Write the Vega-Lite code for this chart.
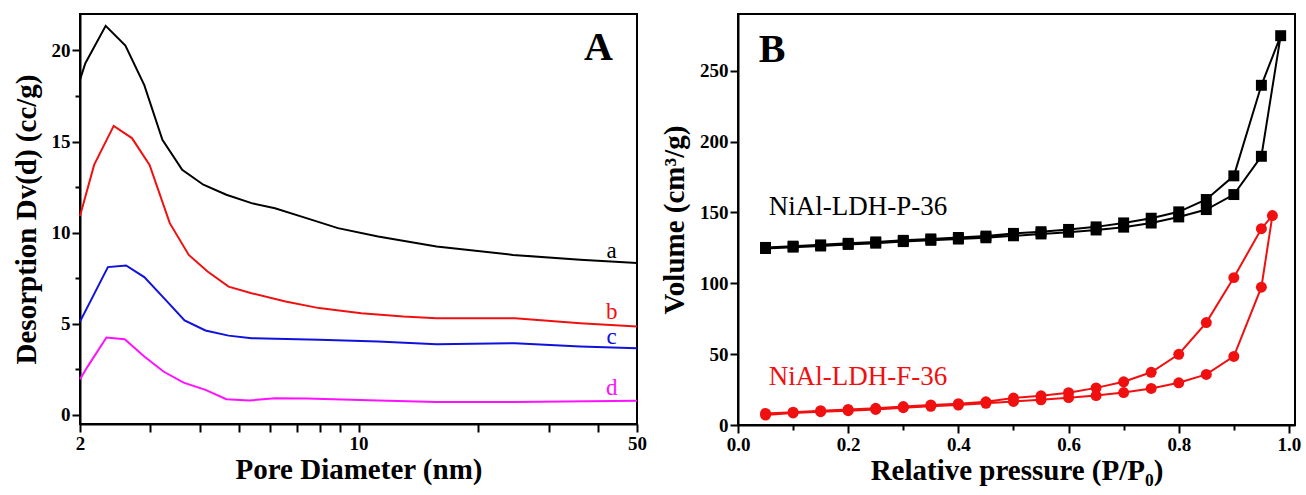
{
  "$schema": "https://vega.github.io/schema/vega-lite/v6.json",
  "padding": {"left": 11, "top": 13, "right": 5, "bottom": 5},
  "spacing": 101,
  "bounds": "flush",
  "config": {
    "view": {"stroke": "black", "strokeWidth": 2},
    "axis": {"domainColor": "black", "domainWidth": 2, "tickColor": "black", "tickWidth": 2, "tickSize": 8,
      "labelFont": "Liberation Serif", "labelFontWeight": "bold", "labelFontSize": 19, "labelColor": "black",
      "titleFont": "Liberation Serif", "titleFontWeight": "bold", "titleFontSize": 29, "titleColor": "black",
      "grid": false, "labelPadding": 2, "labelFlush": false, "labelOverlap": false},
    "text": {"font": "Liberation Serif"}
  },
  "datasets": {
    "pore": [
      {"s": "a", "d": 2.0, "v": 18.39}, {"s": "a", "d": 2.063, "v": 19.3}, {"s": "a", "d": 2.32, "v": 21.35}, {"s": "a", "d": 2.6, "v": 20.27}, {"s": "a", "d": 2.9, "v": 18.1}, {"s": "a", "d": 3.22, "v": 15.1}, {"s": "a", "d": 3.61, "v": 13.45}, {"s": "a", "d": 4.08, "v": 12.63}, {"s": "a", "d": 4.66, "v": 12.08}, {"s": "a", "d": 5.39, "v": 11.62}, {"s": "a", "d": 6.17, "v": 11.34}, {"s": "a", "d": 7.4, "v": 10.8}, {"s": "a", "d": 8.88, "v": 10.25}, {"s": "a", "d": 11.2, "v": 9.79}, {"s": "a", "d": 15.7, "v": 9.24}, {"s": "a", "d": 24.4, "v": 8.78}, {"s": "a", "d": 36.0, "v": 8.51}, {"s": "a", "d": 50.0, "v": 8.33},
      {"s": "b", "d": 2.0, "v": 10.92}, {"s": "b", "d": 2.17, "v": 13.72}, {"s": "b", "d": 2.43, "v": 15.86}, {"s": "b", "d": 2.7, "v": 15.19}, {"s": "b", "d": 2.99, "v": 13.72}, {"s": "b", "d": 3.36, "v": 10.52}, {"s": "b", "d": 3.75, "v": 8.78}, {"s": "b", "d": 4.18, "v": 7.87}, {"s": "b", "d": 4.72, "v": 7.04}, {"s": "b", "d": 5.39, "v": 6.68}, {"s": "b", "d": 6.56, "v": 6.22}, {"s": "b", "d": 7.96, "v": 5.86}, {"s": "b", "d": 10.16, "v": 5.58}, {"s": "b", "d": 12.96, "v": 5.4}, {"s": "b", "d": 15.7, "v": 5.31}, {"s": "b", "d": 19.6, "v": 5.31}, {"s": "b", "d": 24.7, "v": 5.31}, {"s": "b", "d": 36.0, "v": 5.03}, {"s": "b", "d": 50.0, "v": 4.85},
      {"s": "c", "d": 2.0, "v": 5.12}, {"s": "c", "d": 2.35, "v": 8.11}, {"s": "c", "d": 2.61, "v": 8.2}, {"s": "c", "d": 2.9, "v": 7.56}, {"s": "c", "d": 3.28, "v": 6.31}, {"s": "c", "d": 3.66, "v": 5.18}, {"s": "c", "d": 4.13, "v": 4.63}, {"s": "c", "d": 4.72, "v": 4.35}, {"s": "c", "d": 5.39, "v": 4.21}, {"s": "c", "d": 7.96, "v": 4.12}, {"s": "c", "d": 11.2, "v": 4.03}, {"s": "c", "d": 15.7, "v": 3.88}, {"s": "c", "d": 24.7, "v": 3.93}, {"s": "c", "d": 36.0, "v": 3.75}, {"s": "c", "d": 50.0, "v": 3.66},
      {"s": "d", "d": 2.0, "v": 1.96}, {"s": "d", "d": 2.09, "v": 2.65}, {"s": "d", "d": 2.33, "v": 4.25}, {"s": "d", "d": 2.59, "v": 4.15}, {"s": "d", "d": 2.9, "v": 3.2}, {"s": "d", "d": 3.24, "v": 2.38}, {"s": "d", "d": 3.64, "v": 1.77}, {"s": "d", "d": 4.13, "v": 1.37}, {"s": "d", "d": 4.66, "v": 0.86}, {"s": "d", "d": 5.33, "v": 0.79}, {"s": "d", "d": 6.17, "v": 0.91}, {"s": "d", "d": 7.4, "v": 0.9}, {"s": "d", "d": 11.2, "v": 0.79}, {"s": "d", "d": 15.7, "v": 0.71}, {"s": "d", "d": 24.7, "v": 0.71}, {"s": "d", "d": 50.0, "v": 0.77}
    ],
    "poreLabels": [
      {"s": "a", "d": 43.2, "v": 8.97, "t": "a"},
      {"s": "b", "d": 43.2, "v": 5.62, "t": "b"},
      {"s": "c", "d": 43.2, "v": 4.26, "t": "c"},
      {"s": "d", "d": 43.2, "v": 1.46, "t": "d"}
    ],
    "iso": [
      {"s": "P", "i": 1, "p": 0.05, "v": 124.5}, {"s": "P", "i": 2, "p": 0.10, "v": 125.5}, {"s": "P", "i": 3, "p": 0.15, "v": 126.3}, {"s": "P", "i": 4, "p": 0.20, "v": 127.4}, {"s": "P", "i": 5, "p": 0.25, "v": 128.3}, {"s": "P", "i": 6, "p": 0.30, "v": 129.4}, {"s": "P", "i": 7, "p": 0.35, "v": 130.3}, {"s": "P", "i": 8, "p": 0.40, "v": 131.2}, {"s": "P", "i": 9, "p": 0.45, "v": 132.1}, {"s": "P", "i": 10, "p": 0.50, "v": 133.5}, {"s": "P", "i": 11, "p": 0.55, "v": 134.8}, {"s": "P", "i": 12, "p": 0.60, "v": 136.0}, {"s": "P", "i": 13, "p": 0.65, "v": 137.6}, {"s": "P", "i": 14, "p": 0.70, "v": 139.6}, {"s": "P", "i": 15, "p": 0.75, "v": 142.5}, {"s": "P", "i": 16, "p": 0.80, "v": 146.8}, {"s": "P", "i": 17, "p": 0.85, "v": 152.0}, {"s": "P", "i": 18, "p": 0.90, "v": 162.6}, {"s": "P", "i": 19, "p": 0.95, "v": 189.6}, {"s": "P", "i": 20, "p": 0.985, "v": 274.7},
      {"s": "P", "i": 21, "p": 0.95, "v": 239.7}, {"s": "P", "i": 22, "p": 0.90, "v": 175.8}, {"s": "P", "i": 23, "p": 0.85, "v": 159.1}, {"s": "P", "i": 24, "p": 0.80, "v": 150.4}, {"s": "P", "i": 25, "p": 0.75, "v": 145.9}, {"s": "P", "i": 26, "p": 0.70, "v": 142.6}, {"s": "P", "i": 27, "p": 0.65, "v": 139.8}, {"s": "P", "i": 28, "p": 0.60, "v": 138.0}, {"s": "P", "i": 29, "p": 0.55, "v": 136.4}, {"s": "P", "i": 30, "p": 0.50, "v": 135.2}, {"s": "P", "i": 31, "p": 0.45, "v": 133.3}, {"s": "P", "i": 32, "p": 0.40, "v": 132.3}, {"s": "P", "i": 33, "p": 0.35, "v": 131.3}, {"s": "P", "i": 34, "p": 0.30, "v": 130.3}, {"s": "P", "i": 35, "p": 0.25, "v": 129.2}, {"s": "P", "i": 36, "p": 0.20, "v": 128.2}, {"s": "P", "i": 37, "p": 0.15, "v": 127.1}, {"s": "P", "i": 38, "p": 0.10, "v": 126.2}, {"s": "P", "i": 39, "p": 0.05, "v": 125.3},
      {"s": "F", "i": 1, "p": 0.05, "v": 7.0}, {"s": "F", "i": 2, "p": 0.10, "v": 8.5}, {"s": "F", "i": 3, "p": 0.15, "v": 9.4}, {"s": "F", "i": 4, "p": 0.20, "v": 10.1}, {"s": "F", "i": 5, "p": 0.25, "v": 11.0}, {"s": "F", "i": 6, "p": 0.30, "v": 12.2}, {"s": "F", "i": 7, "p": 0.35, "v": 13.2}, {"s": "F", "i": 8, "p": 0.40, "v": 14.1}, {"s": "F", "i": 9, "p": 0.45, "v": 15.3}, {"s": "F", "i": 10, "p": 0.50, "v": 16.6}, {"s": "F", "i": 11, "p": 0.55, "v": 17.8}, {"s": "F", "i": 12, "p": 0.60, "v": 19.3}, {"s": "F", "i": 13, "p": 0.65, "v": 20.8}, {"s": "F", "i": 14, "p": 0.70, "v": 22.9}, {"s": "F", "i": 15, "p": 0.75, "v": 25.8}, {"s": "F", "i": 16, "p": 0.80, "v": 29.8}, {"s": "F", "i": 17, "p": 0.85, "v": 35.7}, {"s": "F", "i": 18, "p": 0.90, "v": 48.4}, {"s": "F", "i": 19, "p": 0.95, "v": 97.2}, {"s": "F", "i": 20, "p": 0.97, "v": 147.8},
      {"s": "F", "i": 21, "p": 0.95, "v": 138.5}, {"s": "F", "i": 22, "p": 0.90, "v": 104.0}, {"s": "F", "i": 23, "p": 0.85, "v": 72.3}, {"s": "F", "i": 24, "p": 0.80, "v": 49.9}, {"s": "F", "i": 25, "p": 0.75, "v": 37.2}, {"s": "F", "i": 26, "p": 0.70, "v": 30.5}, {"s": "F", "i": 27, "p": 0.65, "v": 26.2}, {"s": "F", "i": 28, "p": 0.60, "v": 22.8}, {"s": "F", "i": 29, "p": 0.55, "v": 20.6}, {"s": "F", "i": 30, "p": 0.50, "v": 19.0}, {"s": "F", "i": 31, "p": 0.45, "v": 16.4}, {"s": "F", "i": 32, "p": 0.40, "v": 15.0}, {"s": "F", "i": 33, "p": 0.35, "v": 14.2}, {"s": "F", "i": 34, "p": 0.30, "v": 13.0}, {"s": "F", "i": 35, "p": 0.25, "v": 11.8}, {"s": "F", "i": 36, "p": 0.20, "v": 11.0}, {"s": "F", "i": 37, "p": 0.15, "v": 10.1}, {"s": "F", "i": 38, "p": 0.10, "v": 9.0}, {"s": "F", "i": 39, "p": 0.05, "v": 8.2}
    ],
    "isoLabels": [
      {"s": "P", "p": 0.056, "v": 153.9, "t": "NiAl-LDH-P-36"},
      {"s": "F", "p": 0.056, "v": 34.0, "t": "NiAl-LDH-F-36"}
    ],
    "panelA": [{"d": 40, "v": 20.15, "t": "A"}],
    "panelB": [{"p": 0.062, "v": 264.6, "t": "B"}]
  },
  "hconcat": [
    {
      "width": 557, "height": 410,
      "layer": [
        {
          "data": {"name": "pore"},
          "mark": {"type": "line", "strokeWidth": 2},
          "encoding": {
            "x": {"field": "d", "type": "quantitative", "scale": {"type": "log", "domain": [2, 50], "nice": false},
              "axis": {"values": [2, 3, 4, 5, 6, 7, 8, 9, 10, 20, 30, 40, 50], "format": "d",
                "labelExpr": "indexof([2, 10, 50], datum.value) >= 0 ? datum.label : ''",
                "title": "Pore Diameter (nm)", "titlePadding": 2}},
            "y": {"field": "v", "type": "quantitative", "scale": {"domain": [-0.5, 22], "nice": false, "zero": false},
              "axis": {"values": [0, 2.5, 5, 7.5, 10, 12.5, 15, 17.5, 20], "format": "d",
                "labelExpr": "datum.value % 5 == 0 ? datum.label : ''",
                "tickSize": {"condition": {"test": "datum.value % 5 == 0", "value": 8}, "value": 5},
                "title": "Desorption Dv(d) (cc/g)", "titlePadding": 10}},
            "color": {"field": "s", "type": "nominal", "scale": {"domain": ["a", "b", "c", "d"], "range": ["#000000", "#f01010", "#1111dd", "#ff11ff"]}, "legend": null}
          }
        },
        {
          "data": {"name": "poreLabels"},
          "mark": {"type": "text", "fontSize": 23, "align": "center", "baseline": "middle"},
          "encoding": {
            "x": {"field": "d", "type": "quantitative"},
            "y": {"field": "v", "type": "quantitative"},
            "text": {"field": "t"},
            "color": {"field": "s", "type": "nominal", "legend": null}
          }
        },
        {
          "data": {"name": "panelA"},
          "mark": {"type": "text", "fontSize": 40, "fontWeight": "bold", "align": "center", "baseline": "middle", "color": "black"},
          "encoding": {
            "x": {"field": "d", "type": "quantitative"},
            "y": {"field": "v", "type": "quantitative"},
            "text": {"field": "t"}
          }
        }
      ]
    },
    {
      "width": 557, "height": 411,
      "layer": [
        {
          "data": {"name": "iso"},
          "mark": {"type": "line", "strokeWidth": 2},
          "encoding": {
            "x": {"field": "p", "type": "quantitative", "scale": {"domain": [0, 1.011], "nice": false},
              "axis": {"values": [0, 0.1, 0.2, 0.3, 0.4, 0.5, 0.6, 0.7, 0.8, 0.9, 1.0], "format": ".1f",
                "labelExpr": "round(datum.value * 10) % 2 == 0 ? datum.label : ''",
                "tickSize": {"condition": {"test": "round(datum.value * 10) % 2 == 0", "value": 8}, "value": 5},
                "title": "Relative pressure (P/P₀)", "titlePadding": 2}},
            "y": {"field": "v", "type": "quantitative", "scale": {"domain": [0, 290], "nice": false},
              "axis": {"values": [0, 25, 50, 75, 100, 125, 150, 175, 200, 225, 250, 275], "format": "d",
                "labelExpr": "datum.value % 50 == 0 ? datum.label : ''",
                "tickSize": {"condition": {"test": "datum.value % 50 == 0", "value": 8}, "value": 5},
                "title": "Volume (cm³/g)", "titlePadding": 10}},
            "color": {"field": "s", "type": "nominal", "scale": {"domain": ["P", "F"], "range": ["#000000", "#f01010"]}, "legend": null},
            "order": {"field": "i", "type": "quantitative"}
          }
        },
        {
          "data": {"name": "iso"},
          "mark": {"type": "point", "filled": true, "opacity": 1, "size": 120},
          "encoding": {
            "x": {"field": "p", "type": "quantitative"},
            "y": {"field": "v", "type": "quantitative"},
            "color": {"field": "s", "type": "nominal", "legend": null},
            "shape": {"field": "s", "type": "nominal", "scale": {"domain": ["P", "F"], "range": ["square", "circle"]}, "legend": null}
          }
        },
        {
          "data": {"name": "isoLabels"},
          "mark": {"type": "text", "fontSize": 27, "align": "left", "baseline": "middle"},
          "encoding": {
            "x": {"field": "p", "type": "quantitative"},
            "y": {"field": "v", "type": "quantitative"},
            "text": {"field": "t"},
            "color": {"field": "s", "type": "nominal", "legend": null}
          }
        },
        {
          "data": {"name": "panelB"},
          "mark": {"type": "text", "fontSize": 40, "fontWeight": "bold", "align": "center", "baseline": "middle", "color": "black"},
          "encoding": {
            "x": {"field": "p", "type": "quantitative"},
            "y": {"field": "v", "type": "quantitative"},
            "text": {"field": "t"}
          }
        }
      ]
    }
  ]
}
